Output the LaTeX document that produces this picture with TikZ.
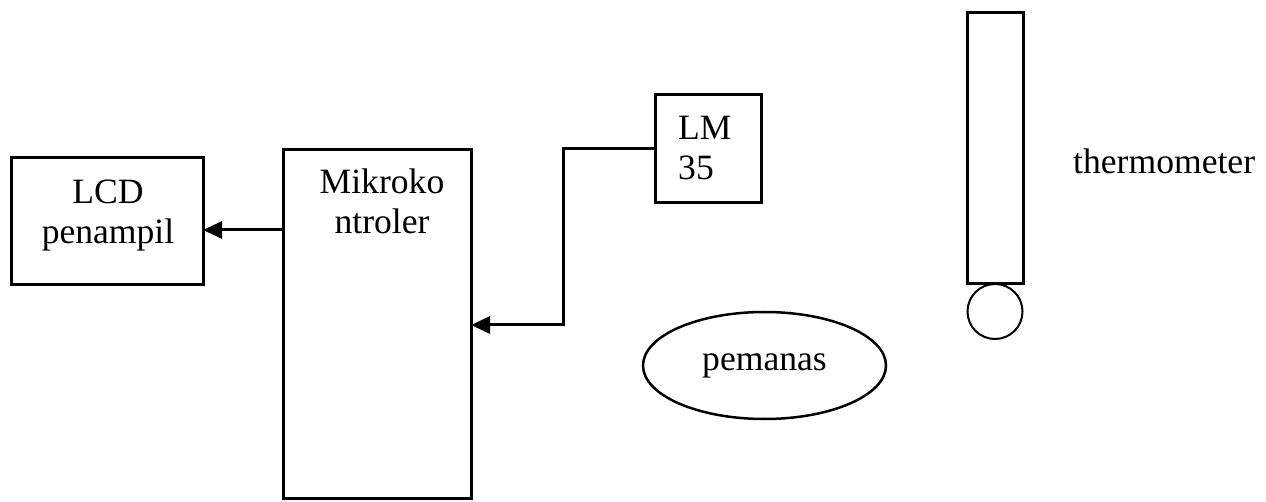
\documentclass[tikz,border=0pt]{standalone}
\usepackage{fontspec}
\setmainfont{Liberation Serif}
\usetikzlibrary{arrows.meta,shapes.geometric}
\tikzset{
  blk/.style={draw, rectangle, line width=3pt, inner sep=0pt, outer sep=0pt},
  txt/.style={inner sep=0pt, font=\fontsize{35.6}{40}\selectfont},
  conn/.style={line width=3pt, -{Triangle[length=19pt,width=17pt]}},
}
\begin{document}
\begin{tikzpicture}[x=1pt,y=-1pt]
\useasboundingbox (0,0) rectangle (1266,502);
% boxes
\node[blk, minimum width=192pt, minimum height=127pt] (lcd) at (107,221) {};
\node[txt, align=center] (lcdt) at (108,216) {LCD\\penampil};
\node[blk, minimum width=188pt, minimum height=348pt] (mikro) at (377,324) {};
\node[txt, align=center] (mikrot) at (382,201) {Mikroko\\ntroler};
\node[blk, minimum width=106pt, minimum height=108pt] (lm) at (708,149) {};
\node[txt, align=left, anchor=west] (lmt) at (678,148) {LM\\35};
\node[draw, ellipse, line width=2.5pt, inner sep=0pt, minimum width=243pt, minimum height=107pt, font=\fontsize{35.6}{40}\selectfont] (heat) at (764.5,365.5) {pemanas};
\node[blk, minimum width=56pt, minimum height=271pt] (tube) at (995,148.5) {};
\node[draw, circle, line width=2pt, inner sep=0pt, minimum size=55pt] (bulb) at (995,311.5) {};
\node[txt, anchor=west] (thermo) at (1073,161) {thermometer};
% connectors
\coordinate (ly) at (0,230);
\draw[conn] (mikro.west |- ly) -- (lcd.east |- ly);
\coordinate (k) at (563,325);
\draw[conn] (lm.west) -| (k) -- (k -| mikro.east);
\end{tikzpicture}
\end{document}
